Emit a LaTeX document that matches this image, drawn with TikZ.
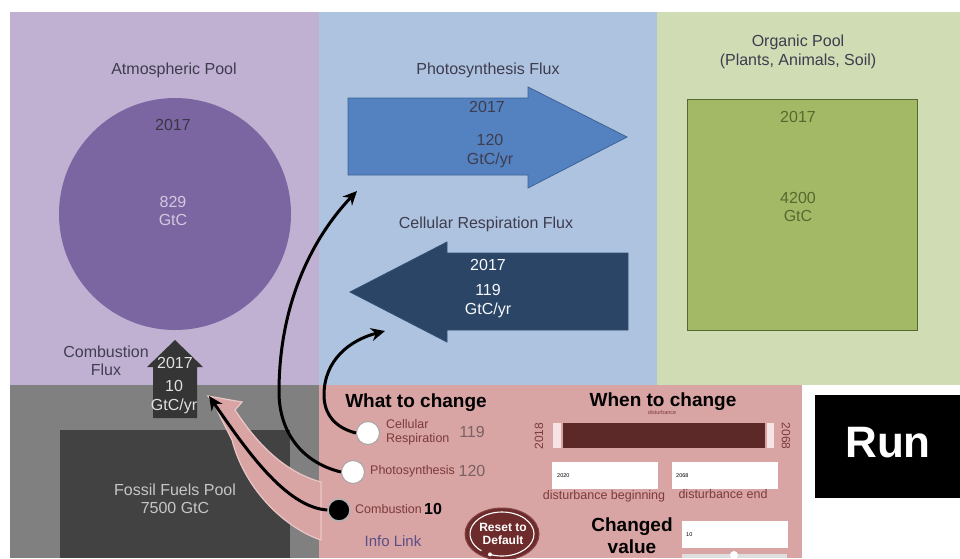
\documentclass[tikz,border=0pt]{standalone}
\usepackage{fontspec}
\setmainfont{Liberation Sans}
\usetikzlibrary{arrows.meta,shapes.geometric}
\newcommand{\myfs}[1]{\fontsize{#1}{\fpeval{1.15*#1}}\selectfont}
\definecolor{atmbg}{HTML}{C0B1D3}
\definecolor{atmcirc}{HTML}{7B66A1}
\definecolor{bluebg}{HTML}{AEC3DF}
\definecolor{photoc}{HTML}{5482C0}
\definecolor{photoe}{HTML}{3C6296}
\definecolor{respc}{HTML}{2A4566}
\definecolor{greenbg}{HTML}{D0DCB4}
\definecolor{orgc}{HTML}{A4B966}
\definecolor{orge}{HTML}{56692E}
\definecolor{graybg}{HTML}{808080}
\definecolor{fossilc}{HTML}{424242}
\definecolor{pinkbg}{HTML}{D9A4A4}
\definecolor{pinkedge}{HTML}{EBC6C6}
\definecolor{bardark}{HTML}{5C2828}
\definecolor{barlight}{HTML}{F6E4E4}
\definecolor{resetc}{HTML}{6E2B2B}
\definecolor{labtxt}{HTML}{3E3C4E}
\definecolor{radtxt}{HTML}{7C3B3B}
\definecolor{numtxt}{HTML}{7A6262}
\definecolor{infotxt}{HTML}{5B4F8A}
\tikzset{
  lab/.style={font=\myfs{16}, text=labtxt, inner sep=0pt},
  val/.style={font=\myfs{16}, inner sep=0pt},
  radio/.style={circle, draw=gray!70, line width=1pt, fill=white, minimum size=23pt, inner sep=0pt},
  radiotxt/.style={font=\myfs{12.5}, text=radtxt, inner sep=0pt, align=left},
  numv/.style={font=\myfs{16}, text=numtxt, inner sep=0pt},
  inbox/.style={draw=white, fill=white, minimum width=105pt, minimum height=26pt, inner sep=0pt},
  tinytxt/.style={font=\myfs{5.5}, inner sep=0pt},
  hdr/.style={font=\bfseries\myfs{19}, inner sep=0pt},
  link/.style={line width=3pt, -{Stealth[length=14pt,width=13pt]}},
}
\begin{document}
\begin{tikzpicture}[x=1pt,y=-1pt]
\useasboundingbox (0,0) rectangle (960,558);
\fill[white] (0,0) rectangle (960,558);
% panels
\fill[atmbg] (10,12) rectangle (319,385);
\fill[bluebg] (319,12) rectangle (657,385);
\fill[greenbg] (657,12) rectangle (960,385);
\fill[graybg] (10,385) rectangle (319,558);
\fill[pinkbg] (319,385) rectangle (802,558);
\fill[fossilc] (60,430) rectangle (290,558);
% Atmospheric pool
\node[lab] (atmlab) at (174,70) {Atmospheric Pool};
\fill[atmcirc] (175,214) circle (116);
\node[val, text=labtxt!90!black] (atmyr) at (173,125) {2017};
\node[val, text=atmbg!70!white, align=center] (atmval) at (173,211) {829\\GtC};
% Photosynthesis flux
\node[lab] (phlab) at (488,70) {Photosynthesis Flux};
\filldraw[fill=photoc, draw=photoe, line width=0.8pt] (348,98) -- (528,98) -- (528,87) -- (627,137) -- (528,188) -- (528,175) -- (348,175) -- cycle;
\node[val, text=labtxt] (phyr) at (487,107) {2017};
\node[val, text=labtxt, align=center] (phval) at (490,151) {120\\GtC/yr};
% Cellular respiration flux
\node[lab] (rslab) at (486,224) {Cellular Respiration Flux};
\filldraw[fill=respc, draw=respc!80!photoc, line width=0.8pt] (628,253) -- (447,253) -- (447,242) -- (350,292) -- (447,342) -- (447,330) -- (628,330) -- cycle;
\node[val, text=white!90!bluebg] (rsyr) at (488,265) {2017};
\node[val, text=white!90!bluebg, align=center] (rsval) at (488,301) {119\\GtC/yr};
% Organic pool
\node[lab, align=center] (orglab) at (798,52) {Organic Pool\\(Plants, Animals, Soil)};
\filldraw[fill=orgc, draw=orge, line width=1pt] (687,99) rectangle (917,330);
\node[val, text=orge] (orgyr) at (798,117) {2017};
\node[val, text=orge, align=center] (orgval) at (798,207) {4200\\GtC};
% Fossil fuels and combustion flux
\node[val, text=gray!45, align=center] (fosval) at (175,499) {Fossil Fuels Pool\\7500 GtC};
\node[lab, align=center, text=labtxt!95!atmcirc] (comblab) at (106,361) {Combustion\\Flux};
\fill[fossilc!80!black] (153,418) -- (153,367) -- (147,367) -- (175,340) -- (203,367) -- (197,367) -- (197,418) -- cycle;
\node[val, text=white!88!black] (cbyr) at (175,363) {2017};
\node[val, text=white!88!black, align=center] (cbval) at (174,397) {10\\GtC/yr};
% pink info band
\filldraw[fill=pinkbg, draw=pinkedge, line width=1.2pt]
  (208,396) -- (242,402) -- (235,410)
  .. controls (258,445) and (285,472) .. (321,482)
  -- (321,540)
  .. controls (285,528) and (245,490) .. (232,440)
  -- (216,408) -- cycle;
% control panel
\node[hdr] (what) at (416,403) {What to change};
\node[hdr] (when) at (663,402) {When to change};
\node[radio] (rcr) at (368,433) {};
\node[radio] (rph) at (353,472) {};
\node[radio, fill=black, draw=gray!60, line width=1.5pt, minimum size=22pt] (rcb) at (339,510) {};
\node[radiotxt, anchor=west] (tcr) at (386,432) {Cellular\\Respiration};
\node[radiotxt, anchor=west] (tph) at (370,471) {Photosynthesis};
\node[radiotxt, anchor=west] (tcb) at (355,509) {Combustion};
\node[numv] (ncr) at (472,432) {119};
\node[numv] (nph) at (472,471) {120};
\node[font=\bfseries\myfs{16}, inner sep=0pt] (ncb) at (433,509) {10};
\node[font=\myfs{15}, text=infotxt, inner sep=0pt] (info) at (393,541) {Info Link};
% reset button
\node[ellipse, fill=resetc, draw=resetc!80!pinkbg, line width=1pt, minimum width=74pt, minimum height=52pt] (reset) at (502,534) {};
\draw[white, line width=1.1pt] (502,534) +(112:32 and 22) arc[start angle=112, end angle=-230, x radius=32, y radius=22];
\fill[white] (502,534) +(112:32 and 22) circle (2);
\node[font=\bfseries\myfs{12}, text=white, align=center, inner sep=0pt] (resettxt) at (503,534) {Reset to\\Default};
% slider
\node[tinytxt, text=radtxt] (dist) at (662,413) {disturbance};
\fill[barlight] (553,423) rectangle (561,448);
\fill[bardark] (563,423) rectangle (765,448);
\fill[barlight] (767,423) rectangle (774,448);
\node[font=\myfs{12}, text=radtxt, rotate=90, inner sep=0pt] (y1) at (539,436) {2018};
\node[font=\myfs{12}, text=radtxt, rotate=-90, inner sep=0pt] (y2) at (786,436) {2068};
\node[inbox] (b1) at (605,475) {};
\node[inbox] (b2) at (725,475) {};
\node[tinytxt, anchor=west] (b1t) at (557,476) {2020};
\node[tinytxt, anchor=west] (b2t) at (676,476) {2068};
\node[font=\myfs{12.5}, text=radtxt, inner sep=0pt] (b1l) at (604,496) {disturbance beginning};
\node[font=\myfs{12.5}, text=radtxt, inner sep=0pt] (b2l) at (723,494) {disturbance end};
\node[font=\bfseries\myfs{19}, align=center, inner sep=0pt] (chg) at (632,536) {Changed\\value};
\node[inbox] (b3) at (734.5,534.5) {};
\node[tinytxt, anchor=west] (b3t) at (686,535) {10};
\fill[gray!25] (682,554) rectangle (787,558);
\fill[white] (734,555) circle (4);
% run button
\fill[black] (815,395) rectangle (960,498);
\node[font=\bfseries\myfs{44}, text=white, inner sep=0pt] (run) at (888,443) {Run};
% link arrows
\coordinate (cbtip) at (209,396);
\coordinate (phtip) at (357,191);
\coordinate (rstip) at (385,331);
\draw[link] (rcb.west) .. controls (285,507) and (245,448) .. (cbtip);
\draw[link] (rph.west) .. controls (300,462) and (279,430) .. (279,392) .. controls (279,300) and (315,235) .. (phtip);
\draw[link] (rcr.west) .. controls (336,428) and (324,415) .. (324,395) .. controls (324,360) and (350,340) .. (rstip);
\end{tikzpicture}
\end{document}
